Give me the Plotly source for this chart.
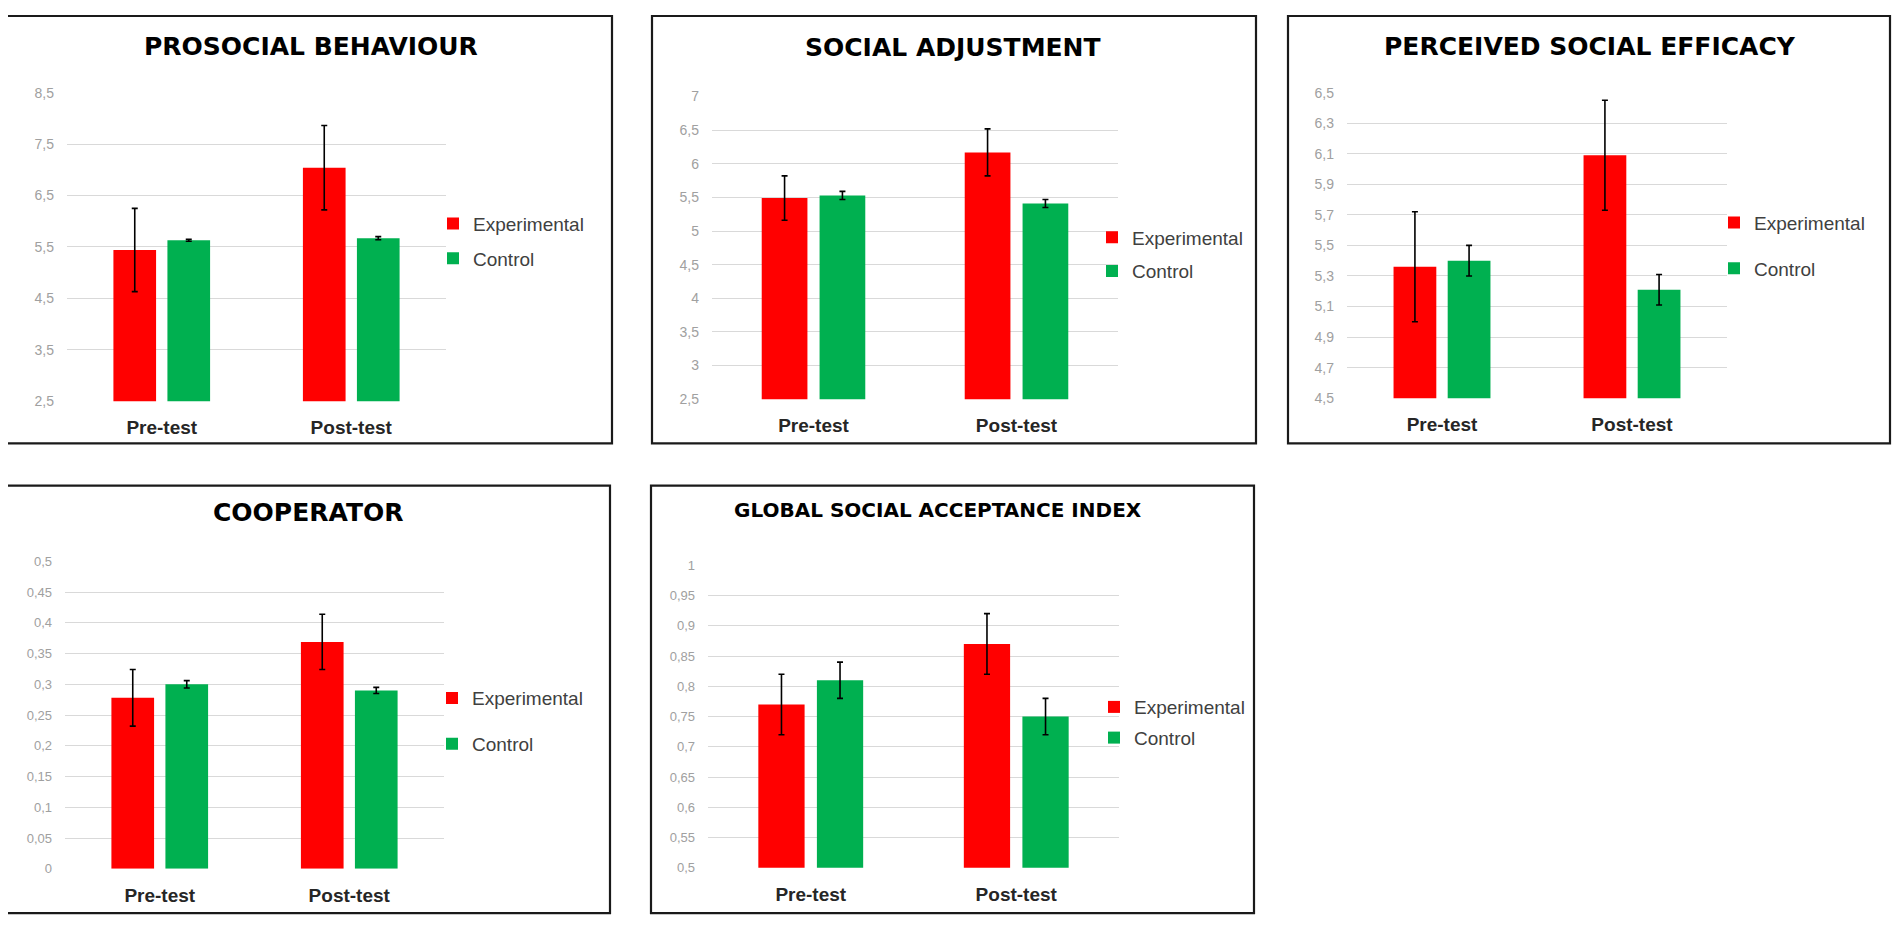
import plotly.graph_objects as go

# --- data ---
phases = ["Pre-test", "Post-test"]
groups = ["Experimental", "Control"]

titles = [
    "PROSOCIAL BEHAVIOUR",
    "SOCIAL ADJUSTMENT",
    "PERCEIVED SOCIAL EFFICACY",
    "COOPERATOR",
    "GLOBAL SOCIAL ACCEPTANCE INDEX",
]

prosocial_exp = [5.44, 7.04]
prosocial_exp_err = [0.81, 0.82]
prosocial_ctrl = [5.63, 5.67]
prosocial_ctrl_err = [0.02, 0.03]
prosocial_ticks = [2.5, 3.5, 4.5, 5.5, 6.5, 7.5, 8.5]
prosocial_ticktext = ["2,5", "3,5", "4,5", "5,5", "6,5", "7,5", "8,5"]

adjust_exp = [5.49, 6.17]
adjust_exp_err = [0.33, 0.35]
adjust_ctrl = [5.53, 5.41]
adjust_ctrl_err = [0.06, 0.06]
adjust_ticks = [2.5, 3, 3.5, 4, 4.5, 5, 5.5, 6, 6.5, 7]
adjust_ticktext = ["2,5", "3", "3,5", "4", "4,5", "5", "5,5", "6", "6,5", "7"]

efficacy_exp = [5.36, 6.09]
efficacy_exp_err = [0.36, 0.36]
efficacy_ctrl = [5.40, 5.21]
efficacy_ctrl_err = [0.10, 0.10]
efficacy_ticks = [4.5, 4.7, 4.9, 5.1, 5.3, 5.5, 5.7, 5.9, 6.1, 6.3, 6.5]
efficacy_ticktext = ["4,5", "4,7", "4,9", "5,1", "5,3", "5,5", "5,7", "5,9", "6,1", "6,3", "6,5"]

coop_exp = [0.278, 0.369]
coop_exp_err = [0.046, 0.045]
coop_ctrl = [0.300, 0.290]
coop_ctrl_err = [0.006, 0.005]
coop_ticks = [0, 0.05, 0.1, 0.15, 0.2, 0.25, 0.3, 0.35, 0.4, 0.45, 0.5]
coop_ticktext = ["0", "0,05", "0,1", "0,15", "0,2", "0,25", "0,3", "0,35", "0,4", "0,45", "0,5"]

gsai_exp = [0.77, 0.87]
gsai_exp_err = [0.05, 0.05]
gsai_ctrl = [0.81, 0.75]
gsai_ctrl_err = [0.03, 0.03]
gsai_ticks = [0.5, 0.55, 0.6, 0.65, 0.7, 0.75, 0.8, 0.85, 0.9, 0.95, 1]
gsai_ticktext = ["0,5", "0,55", "0,6", "0,65", "0,7", "0,75", "0,8", "0,85", "0,9", "0,95", "1"]

# --- layout helpers (screen pixels -> paper); the page body adds an 8px margin ---
OFF = 8
W, H = 1900 - 2 * OFF, 932 - 2 * OFF
RED = "#ff0000"
GREEN = "#00b050"


def fx(px):
    return (px - OFF) / W


def fy(px):
    return 1 - (px - OFF) / H


series = [
    (prosocial_exp, prosocial_exp_err, prosocial_ctrl, prosocial_ctrl_err, prosocial_ticks, prosocial_ticktext),
    (adjust_exp, adjust_exp_err, adjust_ctrl, adjust_ctrl_err, adjust_ticks, adjust_ticktext),
    (efficacy_exp, efficacy_exp_err, efficacy_ctrl, efficacy_ctrl_err, efficacy_ticks, efficacy_ticktext),
    (coop_exp, coop_exp_err, coop_ctrl, coop_ctrl_err, coop_ticks, coop_ticktext),
    (gsai_exp, gsai_exp_err, gsai_ctrl, gsai_ctrl_err, gsai_ticks, gsai_ticktext),
]

# plot areas (x0, x1, ytop, ybottom), frames, title positions, legend positions
plot_px = [(67, 446, 86, 400), (712, 1118, 90, 398), (1347, 1727, 86, 397),
           (65, 444, 563, 876), (708, 1119, 567, 875)]
frame_px = [(6, 612, 8, 443), (652, 1256, 8, 443), (1288, 1890, 8, 443),
            (6, 610, 486, 921), (651, 1254, 486, 921)]
title_px = [(311, 39, 25), (953, 40, 25), (1590, 39, 25), (308, 513, 25), (938, 511, 20)]
legend_px = [(433, 200, 7), (1092, 214, 6), (1714, 199, 18), (432, 683, 18), (1094, 692, 3)]
tick_size = [14, 14, 14, 13, 13]

fig = go.Figure()
layout = dict(
    width=W, height=H,
    margin=dict(l=0, r=0, t=0, b=0),
    paper_bgcolor="white", plot_bgcolor="white",
    barmode="group", bargap=0.43, bargroupgap=0.21,
    font=dict(family="Liberation Sans, Arial, sans-serif"),
    shapes=[], annotations=[],
)

for i, (exp, exp_err, ctrl, ctrl_err, ticks, ticktext) in enumerate(series):
    n = "" if i == 0 else str(i + 1)
    leg = "legend" + n
    xa, ya = "x" + n, "y" + n
    for name, vals, errs, color in [(groups[0], exp, exp_err, RED), (groups[1], ctrl, ctrl_err, GREEN)]:
        fig.add_trace(go.Bar(
            x=phases, y=vals, name=name, xaxis=xa, yaxis=ya,
            marker=dict(color=color, line=dict(width=0)),
            error_y=dict(type="data", array=errs, color="black", thickness=1.6, width=3),
            legend=leg, legendgroup=f"{name}{i}",
        ))

    x0, x1, yt, yb = plot_px[i]
    layout["xaxis" + n] = dict(
        domain=[fx(x0), fx(x1)], anchor=ya, showgrid=False, zeroline=False,
        showline=False, ticks="", ticklabelstandoff=13,
        tickfont=dict(size=19, color="#262626", family="Liberation Sans, Arial", weight="bold"),
    )
    layout["yaxis" + n] = dict(
        domain=[fy(yb), fy(yt)], anchor=xa, range=[ticks[0], ticks[-1]],
        tickvals=ticks, ticktext=ticktext, showgrid=True, gridcolor="#d9d9d9",
        gridwidth=1, zeroline=False, showline=False, ticks="", ticklabelstandoff=12,
        tickfont=dict(size=tick_size[i], color="#a0a0a0"),
    )

    lx, ly, gap = legend_px[i]
    layout[leg] = dict(
        x=fx(lx), y=fy(ly), xanchor="left", yanchor="top",
        font=dict(size=19, color="#404040"), bgcolor="rgba(0,0,0,0)",
        tracegroupgap=gap, itemclick=False,
    )

    fl, fr, ft, fb = frame_px[i]
    layout["shapes"].append(dict(
        type="rect", xref="paper", yref="paper",
        x0=fx(fl), x1=fx(fr), y0=fy(fb), y1=fy(ft),
        line=dict(color="#1a1a1a", width=2.2), fillcolor="rgba(0,0,0,0)",
    ))

    tx, ty, ts = title_px[i]
    layout["annotations"].append(dict(
        text=titles[i], xref="paper", yref="paper", x=fx(tx), y=fy(ty),
        xanchor="center", yanchor="middle", showarrow=False,
        font=dict(family="DejaVu Sans", size=ts, color="black", weight="bold"),
    ))

fig.update_layout(**layout)
fig.write_html("out.html")
